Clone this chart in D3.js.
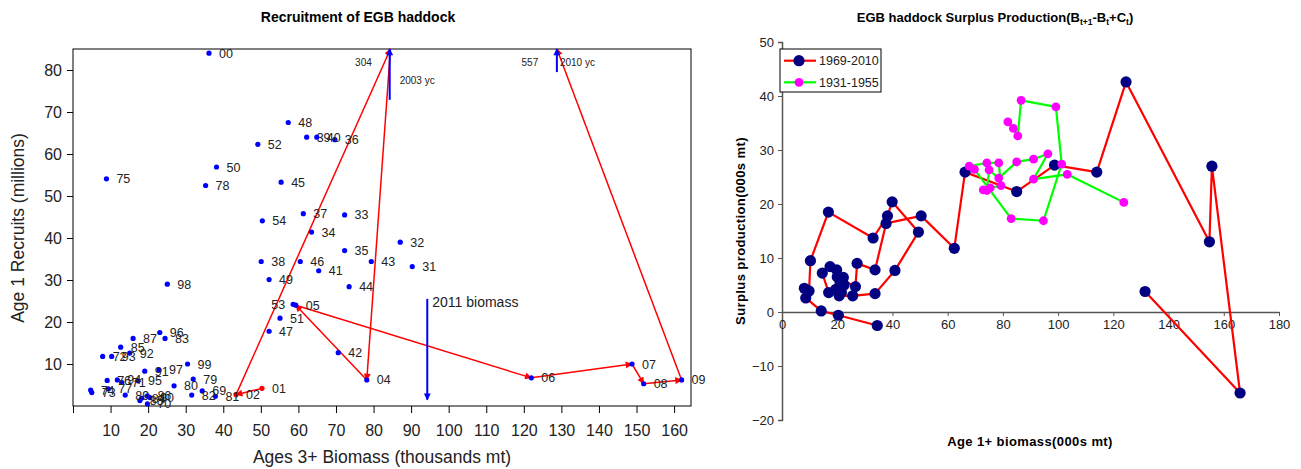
<!DOCTYPE html>
<html>
<head>
<meta charset="utf-8">
<script src="https://cdn.jsdelivr.net/npm/d3@7"></script>
<style>
  body { margin: 0; background: #fff; }
  svg text { font-family: Arial, "Liberation Sans", sans-serif; }
</style>
</head>
<body>
<svg id="chart" width="1301" height="469"></svg>
<script>
/*
Two panels: recruitment vs ages 3+ biomass (left),
surplus production vs age 1+ biomass (right).
*/

// ---- left panel: recruitment ----
var recYears    = ['31','32','33','34','35','36','37','38','39','40','41','42','43','44','45','46','47','48','49','50','51','52','53','54',
                   '69','70','71','72','73','74','75','76','77','78','79','80','81','82','83','84','85','86','87','88','89','90',
                   '91','92','93','94','95','96','97','98','99','00','01','02','03','04','05','06','07','08','09','10'];
var recBiomass  = [90.3,87.1,72.3,63.5,72.3,69.7,61.3,50.1,62.2,64.9,65.4,70.6,79.4,73.5,55.4,60.5,52.2,57.3,52.2,38.2,55.1,49.2,58.6,50.4,
                   34.4,19.8,13.0,7.9,5.0,4.7,8.9,9.1,9.4,35.3,32.0,26.9,37.9,31.6,24.5,18.3,12.7,19.8,16.0,17.8,13.9,20.5,
                   19.1,15.1,10.3,11.8,17.3,23.1,22.9,25.1,30.5,36.2,50.3,43.4,84.5,78.2,59.3,122.0,148.8,151.9,162.0,128.8];
var recRecruits = [33.2,39.0,45.5,41.4,37.0,63.4,45.8,34.4,64.0,64.0,32.2,12.7,34.4,28.4,53.3,34.4,17.8,67.5,30.1,56.9,20.9,62.3,24.2,44.1,
                   3.6,0.5,5.6,11.8,3.2,3.8,54.1,6.1,4.1,52.5,6.4,4.8,2.3,2.6,16.1,1.9,14.0,2.4,16.1,1.3,2.6,2.0,
                   8.3,12.6,11.8,6.2,6.0,17.5,8.6,29.0,10.0,84.0,4.2,2.7,304,6.2,24.0,6.7,10.0,5.3,6.2,557];
var recPath     = ['01','02','03','04','05','06','07','08','09','10'];
var labelOnLeft = ['53'];

// year-class arrows and 2011 biomass marker
var ycLabels  = ['2003 yc','2010 yc'];
var ycBiomass = [84.3,128.8];
var ycFrom    = [72.9,79.5];
var b2011Label = '2011 biomass';
var b2011 = 94.3, b2011From = 25.5, b2011To = 1.5;

var xTicksL = d3.range(0, 161, 10);
var yTicksL = d3.range(10, 81, 10);

// ---- right panel: surplus production ----
var spB69 = [34.5,20.4,14.2,8.6,8.1,9.8,10.3,16.8,33.0,38.2,39.9,49.4,40.9,33.7,25.6,
             20.7,16.9,14.6,17.4,19.8,21.0,22.2,20.8,19.5,21.5,22.5,20.0,
             26.6,27.2,33.7,37.7,50.4,62.4,66.3,85.0,98.7,114.0,124.6,154.8,155.7,165.9,131.5];
var spP69 = [-2.5,-0.6,0.2,2.6,4.4,3.9,9.5,18.5,13.7,17.8,20.4,14.8,7.7,3.4,3.0,
             3.0,3.6,7.2,8.4,7.8,5.6,6.4,4.7,4.2,3.6,5.0,6.5,
             4.7,9.0,7.8,16.4,17.8,11.8,25.9,22.3,27.2,25.9,42.6,13.0,27.0,-15.0,3.8];
var spB31 = [81.8,83.8,85.4,86.6,99.2,101.3,94.7,83.0,69.7,67.8,74.2,78.5,79.3,75.4,72.9,74.2,75.0,78.5,85.0,91.1,96.3,91.1,103.3,123.8];
var spP31 = [35.2,34.0,32.6,39.2,38.0,27.4,16.9,17.3,26.4,27.0,27.6,27.6,23.4,23.0,22.6,22.5,26.3,24.8,27.8,28.3,29.3,24.6,25.5,20.3];
var seriesNames = ['1969-2010','1931-1955'];

var xTicksR = d3.range(0, 181, 20);
var yTicksR = d3.range(-20, 51, 10);

var svg = d3.select('#chart');

// arrow markers
var defs = svg.append('defs');
[['arrRed','#ff0000'],['arrBlue','#0000ff']].forEach(function(m) {
  defs.append('marker')
    .attr('id', m[0])
    .attr('viewBox', '0 0 10 10')
    .attr('refX', 9).attr('refY', 5)
    .attr('markerWidth', 8).attr('markerHeight', 7)
    .attr('markerUnits', 'userSpaceOnUse')
    .attr('orient', 'auto')
    .append('path')
    .attr('d', 'M0,0 L10,5 L0,10 z')
    .attr('fill', m[1]);
});

(function leftPanel() {
  var x = d3.scaleLinear().domain([0, 164.5]).range([73, 691]);
  var y = d3.scaleLinear().domain([0, 85]).range([406, 49]);
  var yMax = y.domain()[1];

  svg.append('text')
    .attr('x', 358).attr('y', 22)
    .attr('text-anchor', 'middle')
    .attr('font-size', 14).attr('font-weight', 'bold')
    .text('Recruitment of EGB haddock');

  svg.append('rect')
    .attr('x', 73).attr('y', 49)
    .attr('width', 618).attr('height', 357)
    .attr('fill', 'none').attr('stroke', '#000').attr('stroke-width', 1);

  var gy = svg.append('g')
    .attr('transform', 'translate(73,0)')
    .call(d3.axisLeft(y).tickValues(yTicksL).tickSize(6).tickPadding(5));
  gy.select('.domain').remove();
  gy.selectAll('text').attr('font-size', 16).attr('fill', '#222');

  var gx = svg.append('g')
    .attr('transform', 'translate(0,406)')
    .call(d3.axisBottom(x).tickValues(xTicksL).tickSize(7).tickPadding(12)
      .tickFormat(function(d) { return d === 0 ? '' : d; }));
  gx.select('.domain').remove();
  gx.selectAll('text').attr('font-size', 16).attr('fill', '#222');

  svg.append('text')
    .attr('transform', 'translate(24,228) rotate(-90)')
    .attr('text-anchor', 'middle')
    .attr('font-size', 17.5).attr('fill', '#222')
    .text('Age 1 Recruits (millions)');

  svg.append('text')
    .attr('x', 382).attr('y', 463)
    .attr('text-anchor', 'middle')
    .attr('font-size', 17.5).attr('fill', '#222')
    .text('Ages 3+ Biomass (thousands mt)');

  var pts = recYears.map(function(yr, i) {
    return { yr: yr, b: recBiomass[i], r: recRecruits[i] };
  });
  var byYear = {};
  pts.forEach(function(p) { byYear[p.yr] = p; });

  // red trajectory 2001-2010
  for (var i = 1; i < recPath.length; i++) {
    var p0 = byYear[recPath[i - 1]], p1 = byYear[recPath[i]];
    svg.append('line')
      .attr('x1', x(p0.b)).attr('y1', y(Math.min(p0.r, yMax)))
      .attr('x2', x(p1.b)).attr('y2', y(Math.min(p1.r, yMax)))
      .attr('stroke', '#ff0000').attr('stroke-width', 1.5)
      .attr('marker-end', 'url(#arrRed)');
  }

  // year-class arrows
  ycLabels.forEach(function(lab, i) {
    svg.append('line')
      .attr('x1', x(ycBiomass[i])).attr('y1', y(ycFrom[i]))
      .attr('x2', x(ycBiomass[i])).attr('y2', y(yMax))
      .attr('stroke', '#0000ff').attr('stroke-width', 2)
      .attr('marker-end', 'url(#arrBlue)');
  });
  svg.append('text')
    .attr('x', x(ycBiomass[0]) + 10).attr('y', 84)
    .attr('font-size', 10).attr('fill', '#222')
    .text(ycLabels[0]);
  svg.append('text')
    .attr('x', x(ycBiomass[1]) + 3).attr('y', 66)
    .attr('font-size', 10).attr('fill', '#222')
    .text(ycLabels[1]);

  // 2011 biomass arrow
  svg.append('line')
    .attr('x1', x(b2011)).attr('y1', y(b2011From))
    .attr('x2', x(b2011)).attr('y2', y(b2011To))
    .attr('stroke', '#0000ff').attr('stroke-width', 2)
    .attr('marker-end', 'url(#arrBlue)');
  svg.append('text')
    .attr('x', x(b2011) + 5).attr('y', y(b2011From) + 8)
    .attr('font-size', 14).attr('fill', '#222')
    .text(b2011Label);

  // points on the chart
  var inside = pts.filter(function(p) { return p.r <= yMax; });
  svg.append('g').selectAll('circle')
    .data(inside).enter().append('circle')
    .attr('cx', function(d) { return x(d.b); })
    .attr('cy', function(d) { return y(d.r); })
    .attr('r', 2.6)
    .attr('fill', function(d) { return (d.yr === recPath[0] || d.yr === recPath[1]) ? '#ff0000' : '#0000ff'; });

  svg.append('g').selectAll('text')
    .data(inside).enter().append('text')
    .attr('x', function(d) { return x(d.b) + (labelOnLeft.indexOf(d.yr) >= 0 ? -8 : 10); })
    .attr('y', function(d) { return y(d.r) + 4.5; })
    .attr('text-anchor', function(d) { return labelOnLeft.indexOf(d.yr) >= 0 ? 'end' : 'start'; })
    .attr('font-size', 12.5).attr('fill', '#222')
    .text(function(d) { return d.yr; });

  // off-scale recruitment values
  svg.append('g').selectAll('text')
    .data(pts.filter(function(p) { return p.r > yMax; }))
    .enter().append('text')
    .attr('x', function(d) { return x(d.b) - 27; })
    .attr('y', function(d) { return y(yMax) + 17; })
    .attr('text-anchor', 'middle')
    .attr('font-size', 10).attr('fill', '#222')
    .text(function(d) { return d.r; });
})();

(function rightPanel() {
  var x = d3.scaleLinear().domain([0, 180]).range([782, 1279]);
  var y = d3.scaleLinear().domain([-20, 50]).range([420, 42]);
  var axisColor = '#555';

  var title = svg.append('text')
    .attr('x', 995).attr('y', 22)
    .attr('text-anchor', 'middle')
    .attr('font-size', 13).attr('font-weight', 'bold');
  title.append('tspan').text('EGB haddock Surplus Production(B');
  title.append('tspan').attr('font-size', 8.5).attr('dy', 3).text('t+1');
  title.append('tspan').attr('dy', -3).text('-B');
  title.append('tspan').attr('font-size', 8.5).attr('dy', 3).text('t');
  title.append('tspan').attr('dy', -3).text('+C');
  title.append('tspan').attr('font-size', 8.5).attr('dy', 3).text('t');
  title.append('tspan').attr('dy', -3).text(')');

  var gy = svg.append('g')
    .attr('transform', 'translate(782,0)')
    .call(d3.axisLeft(y).tickValues(yTicksR).tickSize(4).tickPadding(4));
  gy.select('.domain').attr('stroke', axisColor).attr('stroke-width', 1.5);
  gy.selectAll('line').attr('stroke', axisColor);
  gy.selectAll('text').attr('font-size', 13).attr('fill', '#222');

  var gx = svg.append('g')
    .attr('transform', 'translate(0,' + y(0) + ')')
    .call(d3.axisBottom(x).tickValues(xTicksR).tickSize(4).tickPadding(4).tickSizeOuter(0));
  gx.select('.domain').attr('stroke', axisColor).attr('stroke-width', 1.5);
  gx.selectAll('line').attr('stroke', axisColor);
  gx.selectAll('text').attr('font-size', 13).attr('fill', '#222');

  svg.append('text')
    .attr('transform', 'translate(745,231) rotate(-90)')
    .attr('text-anchor', 'middle')
    .attr('font-size', 13).attr('font-weight', 'bold').attr('letter-spacing', 0.4)
    .text('Surplus production(000s mt)');

  svg.append('text')
    .attr('x', 1030).attr('y', 446)
    .attr('text-anchor', 'middle')
    .attr('font-size', 13).attr('font-weight', 'bold').attr('letter-spacing', 0.4)
    .text('Age 1+ biomass(000s mt)');

  var line = d3.line()
    .x(function(d) { return x(d[0]); })
    .y(function(d) { return y(d[1]); });

  var s69 = spB69.map(function(b, i) { return [b, spP69[i]]; });
  var s31 = spB31.map(function(b, i) { return [b, spP31[i]]; });

  svg.append('path').datum(s69)
    .attr('fill', 'none').attr('stroke', '#ff0000').attr('stroke-width', 2.2)
    .attr('stroke-linejoin', 'round')
    .attr('d', line);
  svg.append('g').selectAll('circle')
    .data(s69).enter().append('circle')
    .attr('cx', function(d) { return x(d[0]); })
    .attr('cy', function(d) { return y(d[1]); })
    .attr('r', 5.6).attr('fill', '#000080');

  svg.append('path').datum(s31)
    .attr('fill', 'none').attr('stroke', '#00ff00').attr('stroke-width', 2.2)
    .attr('stroke-linejoin', 'round')
    .attr('d', line);
  svg.append('g').selectAll('circle')
    .data(s31).enter().append('circle')
    .attr('cx', function(d) { return x(d[0]); })
    .attr('cy', function(d) { return y(d[1]); })
    .attr('r', 4.4).attr('fill', '#ff00ff');

  // legend
  var lg = svg.append('g').attr('transform', 'translate(780,49)');
  lg.append('rect')
    .attr('width', 101).attr('height', 43)
    .attr('fill', '#fff').attr('stroke', '#000').attr('stroke-width', 1);
  var styles = [['#ff0000','#000080',5.6],['#00ff00','#ff00ff',4.4]];
  seriesNames.forEach(function(name, i) {
    var yy = 11.7 + i * 21.6;
    lg.append('line')
      .attr('x1', 4).attr('x2', 36).attr('y1', yy).attr('y2', yy)
      .attr('stroke', styles[i][0]).attr('stroke-width', 2.2);
    lg.append('circle')
      .attr('cx', 19).attr('cy', yy).attr('r', styles[i][2])
      .attr('fill', styles[i][1]);
    lg.append('text')
      .attr('x', 39).attr('y', yy + 4.5)
      .attr('font-size', 12.5).attr('fill', '#222')
      .text(name);
  });
})();
</script>
</body>
</html>
